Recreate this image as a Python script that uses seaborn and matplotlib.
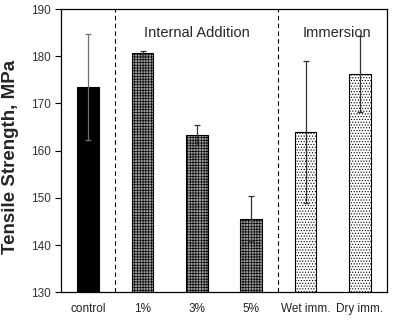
import matplotlib
matplotlib.use("Agg")
import matplotlib.pyplot as plt
import seaborn as sns
import pandas as pd
import numpy as np

categories = ["control", "1%", "3%", "5%", "Wet imm.", "Dry imm."]
strength = [173.5, 180.6, 163.3, 145.6, 164.0, 176.2]
errors = [11.2, 0.6, 2.2, 4.8, 15.0, 8.0]
groups = ["control", "internal", "internal", "internal", "immersion", "immersion"]
yticks = [130, 140, 150, 160, 170, 180, 190]
group_labels = ["Internal Addition", "Immersion"]

sns.set_style("white")
plt.rcParams['font.family'] = ['Liberation Sans', 'DejaVu Sans']
plt.rcParams['hatch.linewidth'] = 0.5

df = pd.DataFrame({"cat": categories, "val": strength, "grp": groups})

fig, ax = plt.subplots(figsize=(3.97, 3.24), dpi=100)
fig.subplots_adjust(left=0.154, right=0.975, top=0.972, bottom=0.098)

sns.barplot(data=df, x="cat", y="val", ax=ax, width=0.4, errorbar=None,
            color="white", edgecolor="black", linewidth=0.8)

styles = {
    "control": dict(fc="black", hatch=None, hc="black"),
    "internal": dict(fc="#a0a0a0", hatch="++++++", hc="#454545"),
    "immersion": dict(fc="white", hatch="......", hc="#707070"),
}
for patch, g in zip(ax.patches, groups):
    s = styles[g]
    patch.set_facecolor(s["fc"])
    if s["hatch"]:
        patch.set_hatch(s["hatch"])
        patch._hatch_color = matplotlib.colors.to_rgba(s["hc"])
    patch.set_edgecolor("black")

x = np.arange(len(categories))
for xi, v, e, g in zip(x, strength, errors, groups):
    col = "#707070" if g == "control" else "#333333"
    ax.errorbar(xi, v, yerr=e, fmt="none", ecolor=col, elinewidth=0.9,
                capsize=2.5, capthick=0.9, zorder=5)

ax.axvline(0.5, color="black", linestyle=(0, (4, 3)), linewidth=0.8)
ax.axvline(3.5, color="black", linestyle=(0, (4, 3)), linewidth=0.8)

ax.text(2.0, 184.9, group_labels[0], ha="center", va="center", fontsize=10.5)
ax.text(4.57, 184.9, group_labels[1], ha="center", va="center", fontsize=10.5)

ax.set_ylim(130, 190)
ax.set_xlim(-0.5, 5.5)
ax.set_yticks(yticks)
ax.set_ylabel("Tensile Strength, MPa", fontsize=13.5, fontweight="bold")
ax.yaxis.set_label_coords(-0.128, 0.477)
ax.set_xlabel("")
ax.tick_params(axis="y", direction="out", length=4, width=0.8, labelsize=8.5,
               left=True, colors="black", labelcolor="#333333")
ax.tick_params(axis="x", length=0, labelsize=8.5, pad=8, labelcolor="#222222")
for sp in ax.spines.values():
    sp.set_color("black")
    sp.set_linewidth(0.9)

fig.savefig("out.png", dpi=100)
